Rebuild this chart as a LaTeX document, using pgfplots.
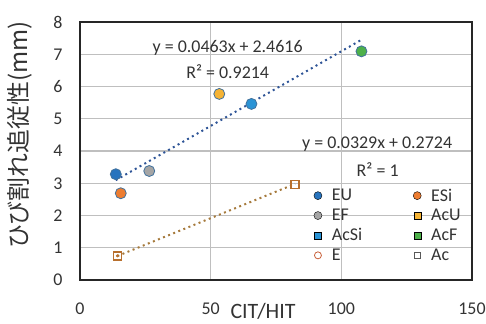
\documentclass[border=0pt]{standalone}
\usepackage{pgfplots}
\pgfplotsset{compat=1.18}
\usepackage{fontspec}
\setmainfont{Carlito}
\newfontfamily\cjk{Noto Sans CJK JP}
\definecolor{cEU}{HTML}{2874BE}
\definecolor{cESi}{HTML}{ED7D31}
\definecolor{cEF}{HTML}{A5A5A5}
\definecolor{cAcU}{HTML}{F5B335}
\definecolor{cAcSi}{HTML}{2A93D5}
\definecolor{cAcF}{HTML}{4DB04A}
\definecolor{cEdge}{HTML}{41719C}
\definecolor{tBlue}{HTML}{2F5597}
\definecolor{tBrown}{HTML}{A67A3C}
\definecolor{mBrown}{HTML}{B8702E}
\definecolor{cE}{HTML}{C8603A}
\definecolor{cAc}{HTML}{595959}
\definecolor{grid}{HTML}{D9D9D9}
\begin{document}
\begin{tikzpicture}
\begin{axis}[
  at={(0,0)}, anchor=south west,
  scale only axis, width=392bp, height=258bp,
  xmin=0, xmax=150, ymin=0, ymax=8,
  xtick={0,50,100,150}, ytick={0,1,...,8},
  grid=major, major grid style={grid, line width=1.2pt},
  axis line style={black!85, line width=1.6pt},
  tick style={draw=none},
  /pgf/number format/assume math mode=true,
  tick label style={font=\fontsize{18}{20}\selectfont, text=black!80},
  xticklabel style={yshift=-19bp},
  yticklabel style={xshift=-14bp},
  xlabel={CIT/HIT},
  x label style={at={(axis description cs:0.467,0)}, anchor=center, yshift=-31bp, font=\fontsize{22}{24}\selectfont, text=black!80},
  ylabel={\cjk ひび割れ追従性(mm)},
  y label style={at={(axis description cs:-0.153,0.562)}, anchor=center, rotate=0, font=\fontsize{24}{26}\selectfont, text=black!80},
  legend columns=2,
  legend cell align=left,
  legend style={at={(axis cs:88.3,2.96)}, anchor=north west, draw=none, fill=none,
    font=\fontsize{18}{20}\selectfont, text=black!80,
    /tikz/every odd column/.append style={column sep=8bp},
    /tikz/every even column/.append style={column sep=49bp},
    row sep=2.5bp},
]
% trend lines
\addplot[forget plot, tBlue, line width=2pt, dash pattern=on 2pt off 3.5pt] coordinates {(13.7,3.096) (107.5,7.439)};
\addplot[forget plot, tBrown, line width=2pt, dash pattern=on 2pt off 3.5pt] coordinates {(14.3,0.743) (82.3,2.980)};
% data
\addplot[forget plot, only marks, mark=*, mark size=5.5bp, mark options={fill=cEU, draw=cEdge, line width=0.8pt}] coordinates {(13.7,3.28)};
\addplot[forget plot, only marks, mark=*, mark size=5.5bp, mark options={fill=cESi, draw=cEdge, line width=0.8pt}] coordinates {(15.6,2.69)};
\addplot[forget plot, only marks, mark=*, mark size=5.5bp, mark options={fill=cEF, draw=cEdge, line width=0.8pt}] coordinates {(26.5,3.38)};
\addplot[forget plot, only marks, mark=*, mark size=5.5bp, mark options={fill=cAcU, draw=cEdge, line width=0.8pt}] coordinates {(53.3,5.77)};
\addplot[forget plot, only marks, mark=*, mark size=5.5bp, mark options={fill=cAcSi, draw=cEdge, line width=0.8pt}] coordinates {(65.6,5.46)};
\addplot[forget plot, only marks, mark=*, mark size=5.5bp, mark options={fill=cAcF, draw=cEdge, line width=0.8pt}] coordinates {(107.7,7.09)};
\addplot[forget plot, only marks, mark=square, mark size=4bp, mark options={draw=mBrown, line width=1.4pt}] coordinates {(14.3,0.75) (82.3,2.97)};
\addplot[forget plot, only marks, mark=*, mark size=1.3bp, mark options={fill=mBrown, draw=mBrown}] coordinates {(14.3,0.75)};
% legend
\addlegendimage{only marks, mark=*, mark size=4bp, mark options={fill=cEU, draw=none}}
\addlegendentry{EU}
\addlegendimage{only marks, mark=*, mark size=4bp, mark options={fill=cESi, draw=none}}
\addlegendentry{ESi}
\addlegendimage{only marks, mark=*, mark size=4bp, mark options={fill=cEF, draw=none}}
\addlegendentry{EF}
\addlegendimage{only marks, mark=square*, mark size=3.5bp, mark options={fill=cAcU, draw=none}}
\addlegendentry{AcU}
\addlegendimage{only marks, mark=square*, mark size=3.5bp, mark options={fill=cAcSi, draw=none}}
\addlegendentry{AcSi}
\addlegendimage{only marks, mark=square*, mark size=3.5bp, mark options={fill=cAcF, draw=none}}
\addlegendentry{AcF}
\addlegendimage{only marks, mark=o, mark size=3.5bp, mark options={draw=cE, line width=0.8pt}}
\addlegendentry{E}
\addlegendimage{only marks, mark=square, mark size=3.2bp, mark options={draw=cAc, line width=0.8pt}}
\addlegendentry{Ac}
% trend labels
\node[font=\fontsize{18}{20}\selectfont, text=black!80] at (axis cs:56.5,7.2) {y = 0.0463x + 2.4616};
\node[font=\fontsize{18}{20}\selectfont, text=black!80] at (axis cs:56.5,6.45) {R² = 0.9214};
\node[font=\fontsize{18}{20}\selectfont, text=black!80] at (axis cs:113.7,4.2) {y = 0.0329x + 0.2724};
\node[font=\fontsize{18}{20}\selectfont, text=black!80] at (axis cs:113.9,3.43) {R² = 1};
\end{axis}
\pgfresetboundingbox
\path[use as bounding box] (-80bp,-44bp) rectangle (406bp,280bp);
\end{tikzpicture}
\end{document}
